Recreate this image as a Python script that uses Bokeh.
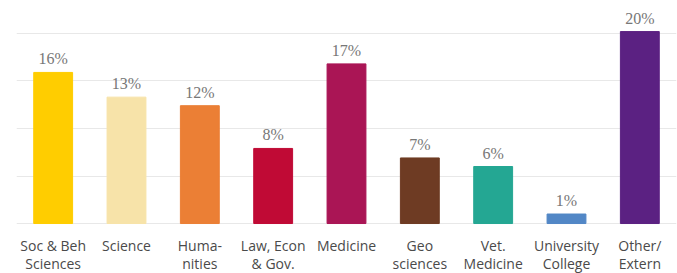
from bokeh.plotting import figure
from bokeh.models import ColumnDataSource, FixedTicker, Range1d, FactorRange
from bokeh.core.properties import value
from bokeh.embed import file_html
from bokeh.resources import INLINE

categories = ["Soc & Beh\nSciences", "Science", "Huma-\nnities", "Law, Econ\n& Gov.",
              "Medicine", "Geo\nsciences", "Vet.\nMedicine", "University\nCollege", "Other/\nExtern"]
values = [15.9, 13.3, 12.4, 7.9, 16.8, 6.9, 6.0, 1.0, 20.2]
labels = ["16%", "13%", "12%", "8%", "17%", "7%", "6%", "1%", "20%"]
colors = ["#FFCD00", "#F7E3A9", "#EB7F35", "#C00A35", "#AA1555",
          "#6E3B23", "#24A793", "#5287C6", "#5B2182"]
grid_ticks = [0, 5, 10, 15, 20]

src = ColumnDataSource(dict(cat=categories, val=values, lab=labels, col=colors,
                            zero=[0] * len(categories)))

p = figure(x_range=FactorRange(*categories), width=677, height=273, output_backend="svg",
           toolbar_location=None, min_border_left=16, min_border_right=1,
           min_border_top=0, min_border_bottom=0)
p.y_range = Range1d(-5.26, 23.47)
p.outline_line_color = None
p.background_fill_color = "white"

p.vbar(x="cat", top="val", width=0.53, color="col", source=src)
p.text(x="cat", y="val", text="lab", source=src, text_align="center",
       text_baseline="bottom", y_offset=-5, text_font=value("Liberation Serif"),
       text_font_size="16px", text_color="#777777")
p.text(x="cat", y="zero", text="cat", source=src, text_align="center",
       text_baseline="top", y_offset=12, text_font=value("Open Sans"),
       text_font_size="14px", text_color="#4a4a4a", text_line_height=0.95)

p.xaxis.visible = False
p.yaxis.visible = False
p.ygrid.ticker = FixedTicker(ticks=grid_ticks)
p.ygrid.grid_line_color = "#e8e8e8"
p.ygrid.grid_line_width = 1
p.xgrid.grid_line_color = None

open("out.html", "w").write(file_html(p, INLINE))
